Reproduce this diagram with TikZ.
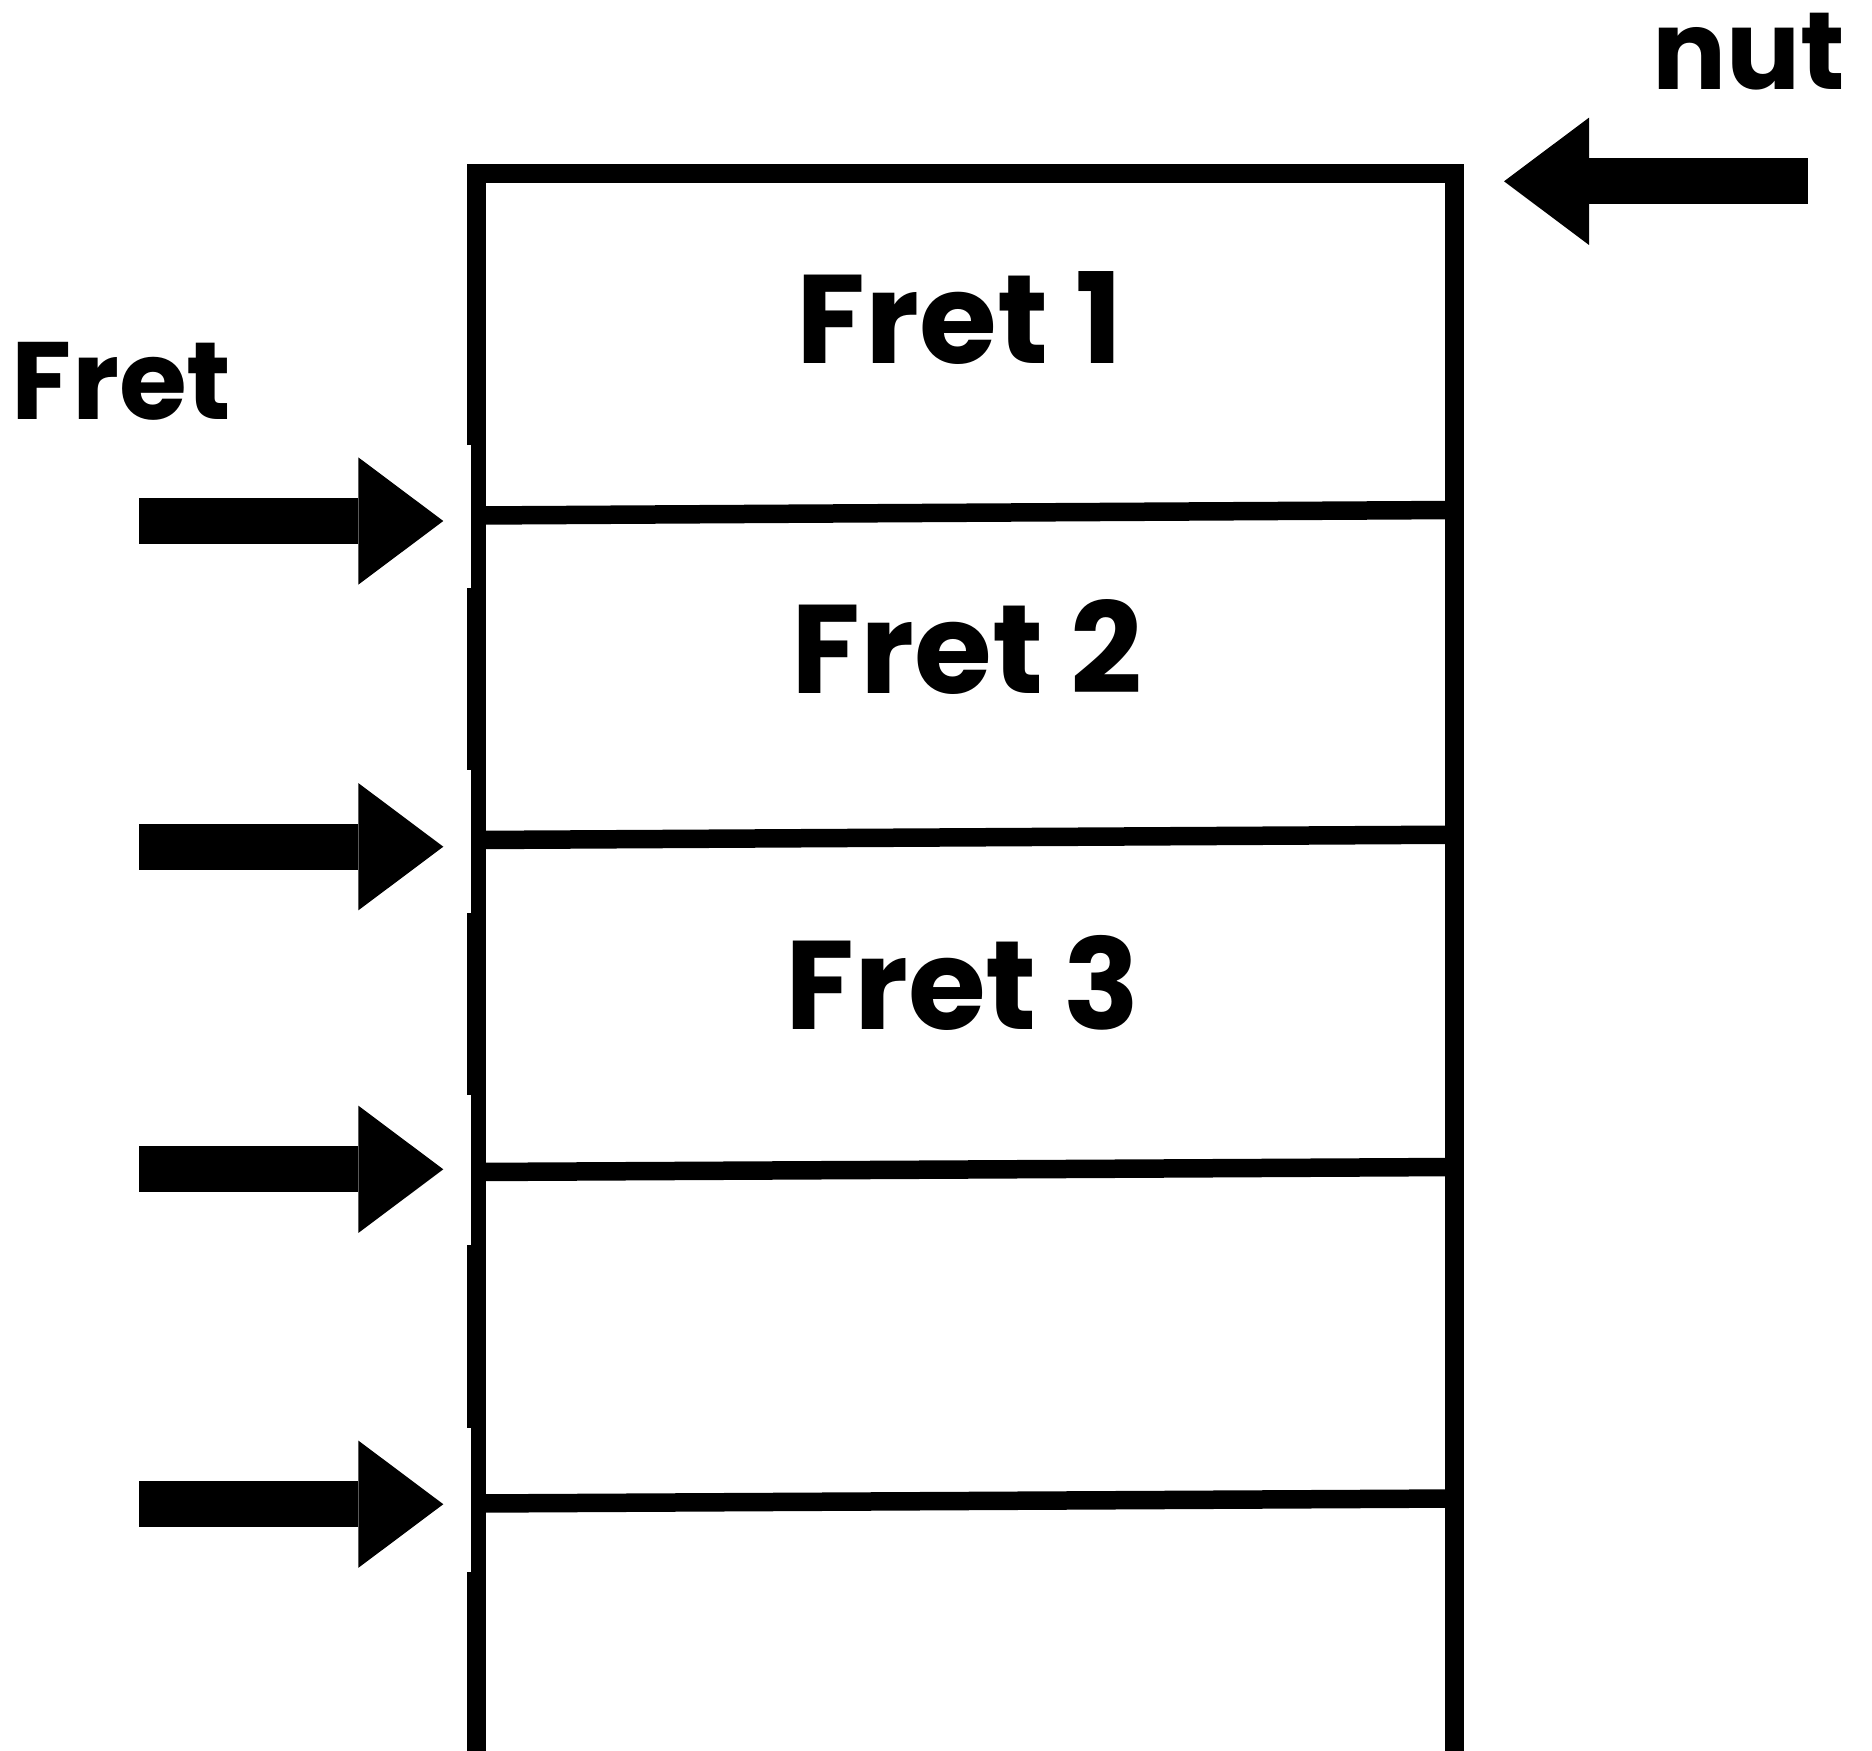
\documentclass[tikz,border=0pt]{standalone}
\usepackage{fontspec}
\setmainfont{Poppins}
\usetikzlibrary{arrows.meta}

\tikzset{
  wall/.style={line width=19pt, line join=miter},
  thinwall/.style={line width=14.7pt},
  fretline/.style={line width=18.5pt},
  bigarrow/.style={line width=46pt, -{Triangle[length=85pt, width=127.3pt, line width=0pt]}},
  boxtext/.style={inner sep=0pt, anchor=base, font=\bfseries\fontsize{126}{126}\selectfont},
  sidetext/.style={inner sep=0pt, anchor=base, font=\bfseries\fontsize{110}{110}\selectfont}
}

\begin{document}
\begin{tikzpicture}[x=1pt, y=-1pt]
\useasboundingbox (0,0) rectangle (1872,1751);

%% Outer box %%
\draw[wall] (476,445) -- (476,173.8) -- (1454.5,173.8) -- (1454.5,1760);

% left wall, pieces %
\draw[wall] (476,588) -- (476,770);
\draw[wall] (476,913) -- (476,1095);
\draw[wall] (476,1245) -- (476,1428);
\draw[wall] (476,1572) -- (476,1760);

\draw[thinwall] (478.4,445) -- (478.4,588);
\draw[thinwall] (478.4,770) -- (478.4,913);
\draw[thinwall] (478.4,1095) -- (478.4,1245);
\draw[thinwall] (478.4,1428) -- (478.4,1572);

%% Frets %%
\draw[fretline] (476,515.5) -- (1454.5,510);
\draw[fretline] (476,840) -- (1454.5,834.7);
\draw[fretline] (476,1172) -- (1454.5,1167);
\draw[fretline] (476,1503.5) -- (1454.5,1498.5);

%% Labels %%
\node[boxtext] (f1) at (959.7,363.3) {Fret 1};
\node[boxtext] (f2) at (967,693.3) {Fret 2};
\node[boxtext] (f3) at (962.8,1029.3) {Fret 3};

\node[sidetext] (fretlbl) at (121.7,419.3) {Fret};
\node[sidetext] (nut) at (1748.5,89) {nut};

%% Arrows %%
\coordinate (tip1) at (443.3,521);
\coordinate (tip2) at (443.3,846.7);
\coordinate (tip3) at (443.3,1169.3);
\coordinate (tip4) at (443.3,1504.2);
\coordinate (nuttip) at (1504,181.3);

% left to right %
\draw[bigarrow] (139.3,521) -- (tip1);
\draw[bigarrow] (139.3,846.7) -- (tip2);
\draw[bigarrow] (139.3,1169.3) -- (tip3);
\draw[bigarrow] (139.3,1504.2) -- (tip4);

% right to left %
\draw[bigarrow] (1807.7,181.3) -- (nuttip);

\end{tikzpicture}
\end{document}
